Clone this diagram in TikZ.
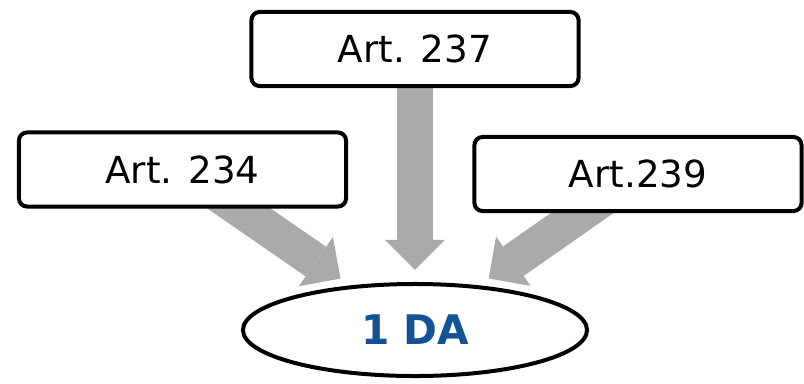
\documentclass[tikz,border=0pt]{standalone}
\usepackage{fontspec}
\setmainfont{DejaVu Sans}
\usetikzlibrary{arrows.meta,shapes.geometric,backgrounds}
\definecolor{arrowgray}{RGB}{170,170,170}
\definecolor{dablue}{RGB}{20,82,150}

\begin{document}
\begin{tikzpicture}[x=0.025cm, y=-0.025cm,
	artbox/.style = {draw, line width=0.1cm, rounded corners=0.2cm, fill=white, minimum width=8.175cm, minimum height=1.85cm, inner sep=0pt, font=\fontsize{26.5}{30}\selectfont},
	bigarrow/.style = {draw=arrowgray, line width=0.9cm, -{Triangle[width=1.5cm,length=0.75cm,line width=0pt]}, shorten >=0.3cm}]
	\useasboundingbox (0,0) rectangle (804,383);
	\node (art237) at (415,49) [artbox] {Art. 237};
	\node (art234) at (182.5,169.5) [artbox] {Art. 234};
	\node (art239) at (638,174) [artbox] {Art.239};
	\node (da) at (415,330) [ellipse, draw, fill=white, line width=0.1cm, minimum width=8.6cm, minimum height=2.3cm, inner sep=0pt, text=dablue, font=\fontsize{29}{32}\selectfont\bfseries] {1 DA};
	\begin{scope}[on background layer]
		\draw [bigarrow] (art234.center) -- (da);
		\draw [bigarrow] (art237.center) -- (da);
		\draw [bigarrow] (art239.center) -- (da);
	\end{scope}
\end{tikzpicture}
\end{document}
